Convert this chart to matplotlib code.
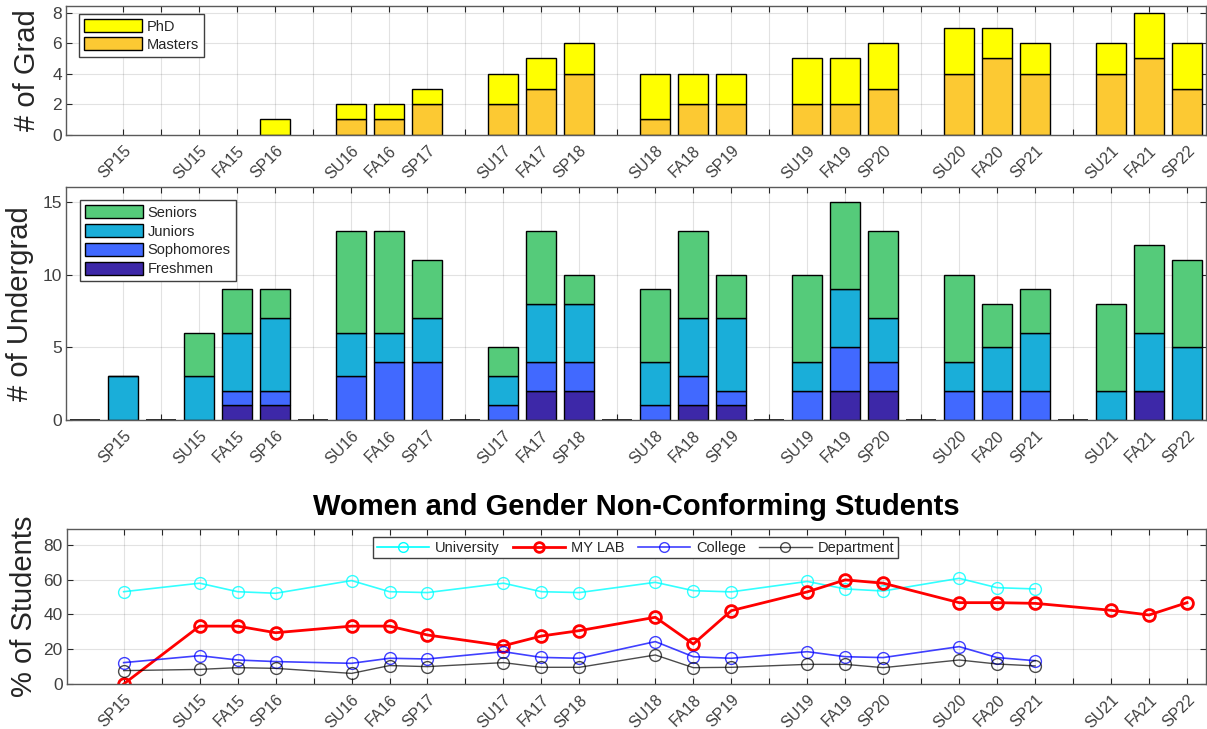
import numpy as np
import matplotlib
matplotlib.use("Agg")
import matplotlib.pyplot as plt
from matplotlib.patches import Patch
from matplotlib.lines import Line2D

plt.rcParams['font.family'] = ['Liberation Sans', 'DejaVu Sans']

# ---------------- data ----------------
semesters = ['SP15', 'SU15', 'FA15', 'SP16', 'SU16', 'FA16', 'SP17', 'SU17', 'FA17', 'SP18',
             'SU18', 'FA18', 'SP19', 'SU19', 'FA19', 'SP20', 'SU20', 'FA20', 'SP21', 'SU21',
             'FA21', 'SP22']

masters = [0, 0, 0, 0, 1, 1, 2, 2, 3, 4, 1, 2, 2, 2, 2, 3, 4, 5, 4, 4, 5, 3]
phd = [0, 0, 0, 1, 1, 1, 1, 2, 2, 2, 3, 2, 2, 3, 3, 3, 3, 2, 2, 2, 3, 3]

freshmen = [0, 0, 1, 1, 0, 0, 0, 0, 2, 2, 0, 1, 1, 0, 2, 2, 0, 0, 0, 0, 2, 0]
sophomores = [0, 0, 1, 1, 3, 4, 4, 1, 2, 2, 1, 2, 1, 2, 3, 2, 2, 2, 2, 0, 0, 0]
juniors = [3, 3, 4, 5, 3, 2, 3, 2, 4, 4, 3, 4, 5, 2, 4, 3, 2, 3, 4, 2, 4, 5]
seniors = [0, 3, 3, 2, 7, 7, 4, 2, 5, 2, 5, 6, 3, 6, 6, 6, 6, 3, 3, 6, 6, 6]

university = [53.1, 58.0, 53.1, 52.2, 59.5, 53.1, 52.6, 58.0, 53.1, 52.6, 58.5, 53.7, 53.0,
              59.0, 54.7, 53.5, 60.8, 55.4, 54.7]
mylab = [0, 33.3, 33.3, 29.5, 33.3, 33.3, 28.2, 22.0, 27.6, 30.7, 38.4, 23.0, 42.2, 53.0,
         59.9, 58.0, 46.8, 46.8, 46.4, 42.4, 39.7, 46.8]
college = [12.3, 16.3, 13.8, 12.9, 11.9, 14.8, 14.4, 18.6, 15.3, 14.8, 24.4, 15.7, 14.8,
           18.6, 15.7, 15.2, 21.5, 15.2, 13.4]
department = [7.7, 8.4, 9.4, 9.0, 6.1, 10.6, 10.0, 12.3, 9.6, 9.6, 16.7, 9.4, 9.6, 11.3,
              11.3, 9.4, 13.8, 11.5, 10.4]

# ---------------- layout helpers ----------------
# SP15 alone, then academic years of three terms, separated by an empty slot
pos = np.array([1] + [3 + 4 * ((i - 1) // 3) + (i - 1) % 3 for i in range(1, len(semesters))])
all_ticks = np.arange(1, pos.max() + 1)
gap_pos = np.array([0] + [p for p in all_ticks if p not in set(pos)])
tick_labels = [semesters[list(pos).index(t)] if t in pos else '' for t in all_ticks]

W, H = 1207, 729
fig = plt.figure(figsize=(W / 100, H / 100), dpi=100)

AX_COL = '#262626'
TXT_COL = '#404040'


def make_ax(left, top, right, bottom):
    return fig.add_axes([left / W, 1 - bottom / H, (right - left) / W, (bottom - top) / H])


def style(ax, ylim, yticks):
    ax.set_xlim(-0.5, 29.5)
    ax.set_ylim(*ylim)
    ax.set_yticks(yticks)
    ax.set_xticks(all_ticks)
    ax.set_xticklabels(tick_labels, rotation=45, ha='right', va='top',
                       rotation_mode='anchor', fontsize=11.5, color=TXT_COL)
    ax.tick_params(axis='y', labelsize=12.5, labelcolor=TXT_COL)
    ax.tick_params(direction='in', length=4, width=0.8, top=True, right=True,
                   color=AX_COL, pad=3)
    ax.tick_params(axis='x', pad=6)
    ax.grid(True, color=AX_COL, alpha=0.13, lw=0.8)
    ax.set_axisbelow(True)
    for s in ax.spines.values():
        s.set_color('#5a5a5a')
        s.set_linewidth(1.0)


bar_w = 0.8

# ---------------- top: graduate ----------------
ax1 = make_ax(66, 5.7, 1206, 134.7)
c_masters = '#FCC933'
c_phd = '#FFFF00'
lw_m = [1.0 if v > 0 else 0 for v in masters]
lw_p = [1.0 if v > 0 else 0 for v in phd]
ax1.bar(pos, masters, bar_w, color=c_masters, edgecolor='black', linewidth=lw_m)
ax1.bar(pos, phd, bar_w, bottom=masters, color=c_phd, edgecolor='black', linewidth=lw_p)
style(ax1, (0, 8.45), [0, 2, 4, 6, 8])
ax1.set_ylabel('# of Grad', fontsize=21, color=AX_COL, labelpad=8)
h1 = [Patch(facecolor=c_phd, edgecolor='black', lw=1),
      Patch(facecolor=c_masters, edgecolor='black', lw=1)]
leg1 = ax1.legend(h1, ['PhD', 'Masters'], loc='upper left',
                  bbox_to_anchor=(79 / W, 1 - 14 / H), bbox_transform=fig.transFigure,
                  fontsize=10.5, handlelength=4.0, handleheight=1.0, handletextpad=0.3,
                  labelspacing=0.25, borderpad=0.35, borderaxespad=0, fancybox=False,
                  framealpha=1, edgecolor='#404040')
leg1.get_frame().set_linewidth(1.0)
for t in leg1.get_texts():
    t.set_color(AX_COL)

# ---------------- middle: undergraduate ----------------
ax2 = make_ax(66, 187.3, 1206, 420)
c_fr = '#3D28A8'
c_so = '#4169FF'
c_ju = '#1AAED9'
c_se = '#55CB7A'
b0 = np.zeros(len(pos))
ax2.bar(gap_pos, np.zeros(len(gap_pos)), bar_w, color='white', edgecolor='black', linewidth=1.2)
for vals, col in [(freshmen, c_fr), (sophomores, c_so), (juniors, c_ju), (seniors, c_se)]:
    ax2.bar(pos, vals, bar_w, bottom=b0, color=col, edgecolor='black', linewidth=1.0)
    b0 = b0 + np.array(vals)
style(ax2, (0, 16), [0, 5, 10, 15])
ax2.set_ylabel('# of Undergrad', fontsize=21, color=AX_COL, labelpad=6)
h2 = [Patch(facecolor=c, edgecolor='black', lw=1) for c in [c_se, c_ju, c_so, c_fr]]
leg2 = ax2.legend(h2, ['Seniors', 'Juniors', 'Sophomores', 'Freshmen'], loc='upper left',
                  bbox_to_anchor=(80 / W, 1 - 200 / H), bbox_transform=fig.transFigure,
                  fontsize=10.5, handlelength=4.0, handleheight=1.0, handletextpad=0.3,
                  labelspacing=0.3, borderpad=0.35, borderaxespad=0, fancybox=False,
                  framealpha=1, edgecolor='#404040')
leg2.get_frame().set_linewidth(1.0)
for t in leg2.get_texts():
    t.set_color(AX_COL)

# ---------------- bottom: percentages ----------------
ax3 = make_ax(66.7, 529.3, 1206, 684)
n_u = len(university)
ax3.plot(pos[:n_u], university, '-o', color='#00FFFF', lw=1.2, ms=8.5, mfc='none', mew=1.0,
         alpha=0.8, label='University')
ax3.plot(pos[:len(mylab)], mylab, '-o', color='#FF0000', lw=2.0, ms=8.5, mfc='none', mew=2.0,
         label='MY LAB')
ax3.plot(pos[:len(college)], college, '-o', color='#0000FF', lw=1.2, ms=8.5, mfc='none',
         mew=1.0, alpha=0.75, label='College')
ax3.plot(pos[:len(department)], department, '-o', color='#000000', lw=1.0, ms=8.5, mfc='none',
         mew=1.0, alpha=0.7, label='Department')
style(ax3, (0, 89), [0, 20, 40, 60, 80])
ax3.set_ylabel('% of Students', fontsize=21, color=AX_COL, labelpad=4)
ax3.set_title('Women and Gender Non-Conforming Students', fontsize=21, fontweight='bold',
              pad=10)
h3 = [Line2D([], [], color='#00FFFF', lw=1.2, marker='o', ms=7, mfc='none'),
      Line2D([], [], color='#FF0000', lw=2.0, marker='o', ms=7, mfc='none', mew=2),
      Line2D([], [], color='#0000FF', lw=1.2, marker='o', ms=7, mfc='none', alpha=0.75),
      Line2D([], [], color='#000000', lw=1.0, marker='o', ms=7, mfc='none', alpha=0.7)]
leg3 = ax3.legend(h3, ['University', 'MY LAB', 'College', 'Department'], loc='upper left',
                  ncol=4, bbox_to_anchor=(373 / W, 1 - 537 / H),
                  bbox_transform=fig.transFigure, fontsize=10.5, handlelength=3.6,
                  handletextpad=0.4, columnspacing=0.9, borderpad=0.25, borderaxespad=0,
                  fancybox=False, framealpha=1, edgecolor='#404040')
leg3.get_frame().set_linewidth(1.0)
for t in leg3.get_texts():
    t.set_color(AX_COL)

fig.savefig('out.png', dpi=100)
